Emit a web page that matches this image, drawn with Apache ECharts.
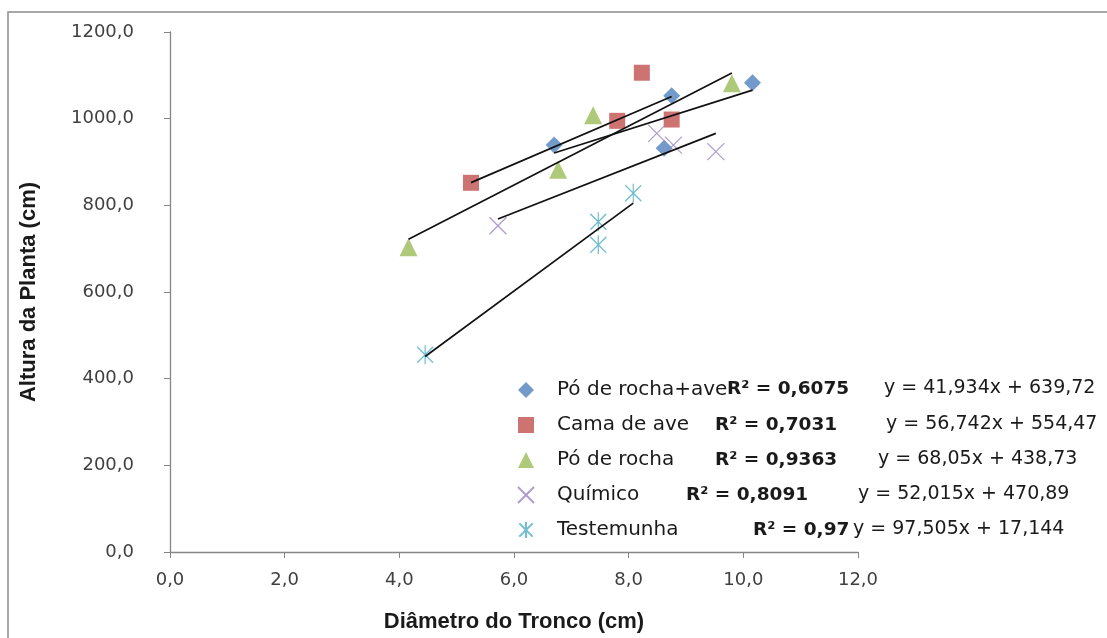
<!DOCTYPE html>
<html>
<head>
<meta charset="utf-8">
<script src="https://cdn.jsdelivr.net/npm/echarts@6/dist/echarts.min.js"></script>
<style>
html,body{margin:0;padding:0;background:#fff;}
#chart{width:1107px;height:638px;}
</style>
</head>
<body>
<div id="chart"></div>
<script>
// ---- data ----
const seriesNames = ['Pó de rocha+ave', 'Cama de ave', 'Pó de rocha', 'Químico', 'Testemunha'];
const poRochaAve = [[6.70, 939], [8.62, 932], [8.75, 1053], [10.16, 1083]];
const camaAve = [[5.25, 852], [7.80, 995], [8.23, 1106], [8.75, 998]];
const poRocha = [[4.16, 703], [6.77, 882], [7.38, 1008], [9.80, 1082]];
const quimico = [[5.72, 753], [8.49, 966], [8.78, 939], [9.52, 924]];
const testemunha = [[4.45, 455], [7.47, 709], [7.47, 762], [8.08, 828]];
const slopes = [41.934, 56.742, 68.05, 52.015, 97.505];
const intercepts = [639.72, 554.47, 438.73, 470.89, 17.144];
const r2Labels = ['R² = 0,6075', 'R² = 0,7031', 'R² = 0,9363', 'R² = 0,8091', 'R² = 0,97'];
const eqLabels = ['y = 41,934x + 639,72', 'y = 56,742x + 554,47', 'y = 68,05x + 438,73', 'y = 52,015x + 470,89', 'y = 97,505x + 17,144'];
const xTicks = [0, 2, 4, 6, 8, 10, 12];
const yTicks = [0, 200, 400, 600, 800, 1000, 1200];

const allData = [poRochaAve, camaAve, poRocha, quimico, testemunha];
const colors = ['#4F81BD', '#C0504D', '#9BBB59', '#9A86C4', '#4BACC6'];
const symbols = [
  'diamond', 'rect', 'triangle',
  'path://M0,0L10,10M10,0L0,10',
  'path://M0,1L10,11M10,1L0,11M5,0L5,12'
];
const symbolSizes = [17, 16, 18, 17, [16, 19]];
const FONT = '"DejaVu Sans", Verdana, sans-serif';

const chart = echarts.init(document.getElementById('chart'), null, {renderer: 'canvas'});
const fmt = v => v.toFixed(1).replace('.', ',');

const series = [];
allData.forEach((d, i) => {
  const isLine = i >= 3;
  series.push({
    name: seriesNames[i],
    type: 'scatter',
    data: d,
    symbol: symbols[i],
    symbolSize: symbolSizes[i],
    itemStyle: isLine ? {color: 'rgba(0,0,0,0)', borderColor: colors[i], borderWidth: 1.3} : {color: colors[i]},
    z: 3
  });
});
allData.forEach((d, i) => {
  const xs = d.map(p => p[0]);
  const x0 = Math.min(...xs), x1 = Math.max(...xs);
  series.push({
    name: 'trend' + i,
    type: 'line',
    data: [[x0, slopes[i] * x0 + intercepts[i]], [x1, slopes[i] * x1 + intercepts[i]]],
    symbol: 'none',
    lineStyle: {color: '#111', width: 1.7},
    silent: true,
    z: 4
  });
});

const r2Left = [727, 715, 715, 686, 753];
const eqLeft = [884, 886, 878, 858, 853];
const rowY = [389, 425, 460, 495, 530];
const graphics = [{
  type: 'rect', x: 8, y: 12, shape: {width: 1120, height: 650},
  style: {fill: 'none', stroke: '#8c8c8c', lineWidth: 1.5}, silent: true
}];
r2Labels.forEach((t, i) => {
  graphics.push({type: 'text', x: r2Left[i], y: rowY[i],
    style: {text: t, font: 'bold 18.5px ' + FONT, fill: '#1a1a1a', verticalAlign: 'middle', align: 'left'}, z: 10});
  graphics.push({type: 'text', x: eqLeft[i], y: rowY[i] - 1,
    style: {text: eqLabels[i], font: '19px ' + FONT, fill: '#1a1a1a', verticalAlign: 'middle', align: 'left'}, z: 10});
});

chart.setOption({
  animation: false,
  backgroundColor: '#fff',
  color: colors,
  grid: {left: 170, top: 32, right: 249, bottom: 86, containLabel: false},
  xAxis: {
    type: 'value', min: xTicks[0], max: xTicks[xTicks.length - 1], interval: 2,
    name: 'Diâmetro do Tronco (cm)', nameLocation: 'middle', nameGap: 59,
    nameTextStyle: {fontFamily: '"Liberation Sans", Arial, sans-serif', fontWeight: 'bold', fontSize: 22, color: '#1a1a1a'},
    axisLine: {show: true, lineStyle: {color: '#868686', width: 1.3}},
    axisTick: {show: true, length: 6, lineStyle: {color: '#868686'}},
    splitLine: {show: false},
    axisLabel: {formatter: fmt, fontFamily: FONT, fontSize: 18, color: '#404040', margin: 19}
  },
  yAxis: {
    type: 'value', min: yTicks[0], max: yTicks[yTicks.length - 1], interval: 200,
    name: 'Altura da Planta (cm)', nameLocation: 'middle', nameGap: 130, nameRotate: 90,
    nameTextStyle: {fontFamily: '"Liberation Sans", Arial, sans-serif', fontWeight: 'bold', fontSize: 22, color: '#1a1a1a'},
    axisLine: {show: true, lineStyle: {color: '#868686', width: 1.3}},
    axisTick: {show: true, length: 6, lineStyle: {color: '#868686'}},
    splitLine: {show: false},
    axisLabel: {formatter: fmt, fontFamily: FONT, fontSize: 18, color: '#404040', margin: 36}
  },
  legend: {
    data: seriesNames,
    orient: 'vertical', left: 512, top: 375,
    itemWidth: 16, itemHeight: 16, itemGap: 15,
    textStyle: {fontFamily: FONT, fontSize: 20, color: '#1a1a1a', padding: [0, 0, 0, 18]},
    selectedMode: false
  },
  graphic: graphics,
  series: series
});
</script>
</body>
</html>
